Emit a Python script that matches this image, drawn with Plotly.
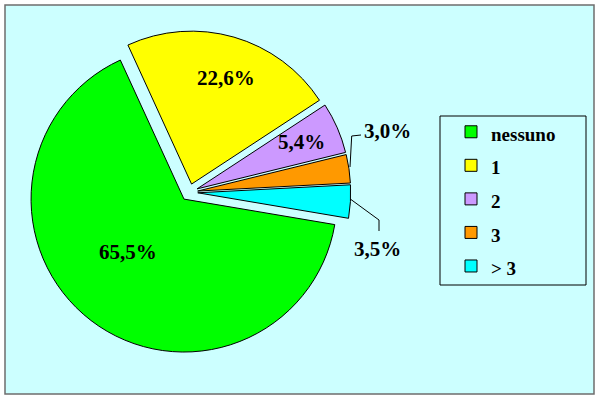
import plotly.graph_objects as go

# ---- data ----
categories = ["nessuno", "1", "2", "3", "> 3"]
values = [65.5, 22.6, 5.4, 3.0, 3.5]
colors = ["#00FF00", "#FFFF00", "#CC99FF", "#FF9900", "#00FFFF"]
label_texts = ["65,5%", "22,6%", "5,4%", "3,0%", "3,5%"]

W, H = 600, 400
def px(x):
    return x / W
def py(y):
    return 1 - y / H

SERIF = "Liberation Serif, Times New Roman, serif"

fig = go.Figure(go.Pie(
    labels=[f'<span style="font-size:19px">{c}</span>' for c in categories],
    values=values,
    sort=False,
    direction="clockwise",
    rotation=99.6,
    pull=[0.056] * len(values),
    marker=dict(colors=colors, line=dict(color="#000000", width=1)),
    textinfo="none",
    hoverinfo="label+percent",
    domain=dict(x=[px(27.7), px(350.7)], y=[py(353.8), py(30.8)]),
))

# label placements (pixel centers of the texts)
label_pos = [(128, 252), (226, 78), (301.5, 141.5), (387, 131), (377, 249)]
annotations = []
for t, (x, y) in zip(label_texts, label_pos):
    annotations.append(dict(
        x=px(x), y=py(y), xref="paper", yref="paper", text=t, showarrow=False,
        xanchor="center", yanchor="middle",
        font=dict(family=SERIF, size=21, color="#000000"),
    ))

def path(points):
    return "M " + " L ".join(f"{px(x)},{py(y)}" for x, y in points)

shapes = [
    # chart area
    dict(type="rect", xref="paper", yref="paper", x0=px(5), y0=py(5), x1=px(594), y1=py(394),
         fillcolor="#CCFFFF", line=dict(color="#6E6E6E", width=1.5), layer="below"),
    # legend frame
    dict(type="rect", xref="paper", yref="paper", x0=px(440), y0=py(116), x1=px(586), y1=py(285),
         fillcolor="rgba(0,0,0,0)", line=dict(color="#000000", width=1), layer="below"),
    # leader lines
    dict(type="path", xref="paper", yref="paper",
         path=path([(350, 167), (351.7, 136), (361, 135)]),
         line=dict(color="#000000", width=1)),
    dict(type="path", xref="paper", yref="paper",
         path=path([(350.7, 199.3), (379, 220), (379, 231)]),
         line=dict(color="#000000", width=1)),
]

fig.update_layout(
    width=W, height=H,
    margin=dict(l=0, r=0, t=0, b=0),
    paper_bgcolor="#FFFFFF",
    plot_bgcolor="#FFFFFF",
    showlegend=True,
    legend=dict(
        x=px(451), y=py(110), xanchor="left", yanchor="top",
        bgcolor="rgba(0,0,0,0)", borderwidth=0,
        font=dict(family=SERIF, size=23.5, color="#000000", weight="bold"),
        traceorder="normal",
    ),
    font=dict(family=SERIF, weight="bold"),
    annotations=annotations,
    shapes=shapes,
)

fig.write_html(
    "out.html",
    config={"displayModeBar": False},
    post_script="document.body.style.margin='0';document.body.style.overflow='hidden';",
)
